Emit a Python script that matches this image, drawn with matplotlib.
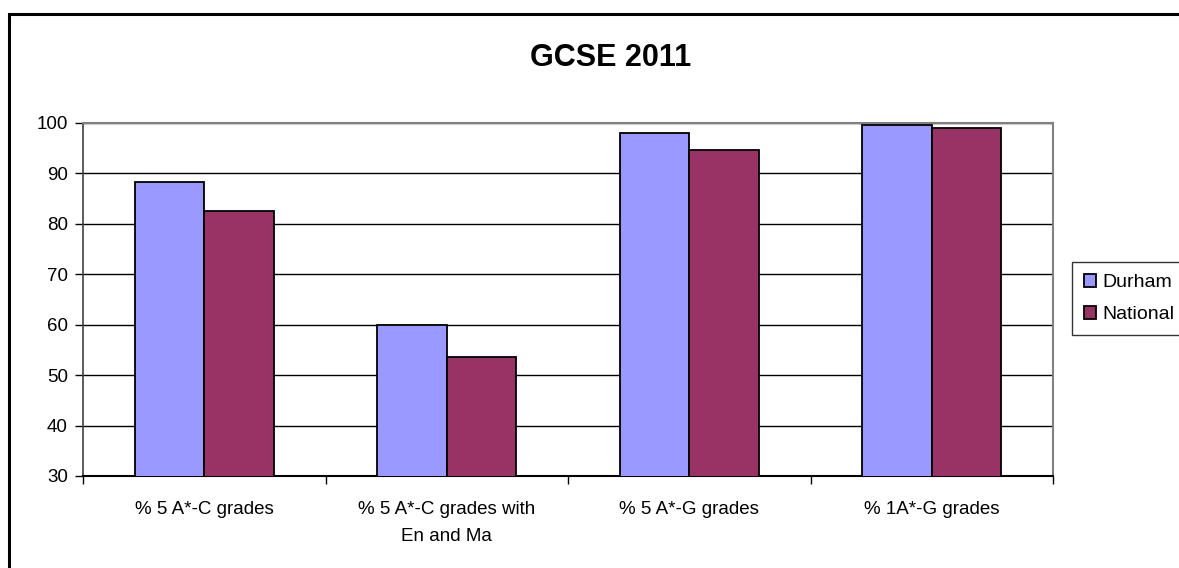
import numpy as np
import matplotlib
matplotlib.use("Agg")
import matplotlib.pyplot as plt
from matplotlib.patches import Rectangle

plt.rcParams['font.family'] = ['Liberation Sans', 'DejaVu Sans']

categories = ["% 5 A*-C grades", "% 5 A*-C grades with\nEn and Ma",
              "% 5 A*-G grades", "% 1A*-G grades"]
durham = [88.3, 60.0, 97.9, 99.6]
national = [82.5, 53.5, 94.5, 98.9]
yticks = [30, 40, 50, 60, 70, 80, 90, 100]

W, H = 1179, 568
fig = plt.figure(figsize=(W / 100, H / 100), dpi=100)

# outer chart border (cut off at right/bottom like the original)
fig.patches.append(Rectangle((9 / W, -0.1), 1.2, 1.1 - 14 / H, transform=fig.transFigure,
                             fill=False, edgecolor='black', linewidth=2.2))

ax = fig.add_axes([83 / W, 1 - 476 / H, (1053 - 83) / W, (476 - 122.7) / H])

x = np.arange(len(categories))
bw = 0.286
ax.bar(x - bw / 2, durham, bw, bottom=0, color='#9999FF', edgecolor='black', linewidth=1.3,
       label='Durham', zorder=3)
ax.bar(x + bw / 2, national, bw, bottom=0, color='#993366', edgecolor='black', linewidth=1.3,
       label='National', zorder=3)

ax.set_ylim(30, 100)
ax.set_xlim(-0.5, len(categories) - 0.5)
ax.set_yticks(yticks)
ax.yaxis.grid(True, color='black', linewidth=1)
ax.set_axisbelow(True)

ax.set_xticks(x)
ax.set_xticklabels(categories, linespacing=1.75, va='top')
ax.set_xticks(np.arange(-0.5, len(categories)), minor=True)
ax.tick_params(axis='x', which='major', length=0, pad=18, labelsize=13.5)
ax.tick_params(axis='x', which='minor', length=6, width=1, color='black')
ax.tick_params(axis='y', length=6, width=1, labelsize=13.5, pad=5)

for s in ['top', 'right']:
    ax.spines[s].set_color('#808080')
    ax.spines[s].set_linewidth(1.5)
ax.spines['left'].set_color('#404040')
ax.spines['bottom'].set_color('black')
ax.spines['left'].set_linewidth(1.2)
ax.spines['bottom'].set_linewidth(1.5)

fig.text(611 / W, 1 - 58 / H, "GCSE 2011", ha='center', va='center',
         fontsize=22, fontweight='bold')

leg = fig.legend(loc='upper left', bbox_to_anchor=(1072 / W, 1 - 262 / H),
                 fontsize=14, frameon=True, fancybox=False, handlelength=0.65,
                 handleheight=0.65, handletextpad=0.3, borderpad=0.6,
                 labelspacing=0.75, borderaxespad=0)
leg.get_frame().set_edgecolor('black')
leg.get_frame().set_linewidth(1)

fig.savefig("out.png", dpi=100)
